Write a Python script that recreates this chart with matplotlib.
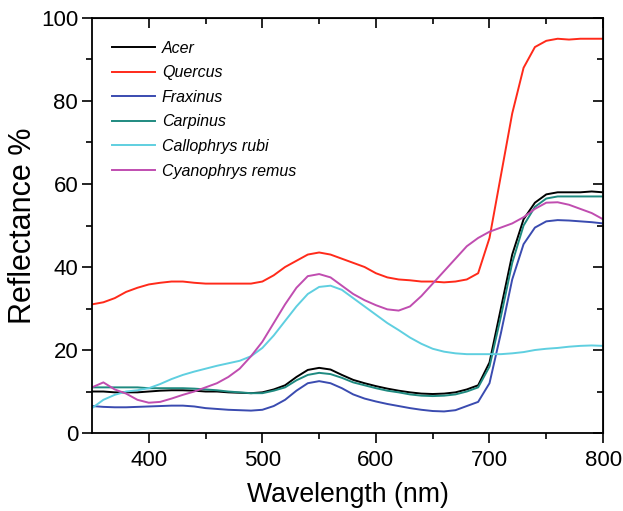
import numpy as np
import matplotlib
matplotlib.use("Agg")
import matplotlib.pyplot as plt

plt.rcParams['font.family'] = ['Liberation Sans', 'DejaVu Sans']

wavelength = list(range(350, 801, 10))

acer = [10, 10, 9.8, 9.8, 9.8, 10, 10.2, 10.3, 10.3, 10.2, 10, 10, 9.8, 9.7, 9.6, 9.8,
        10.5, 11.5, 13.5, 15.2, 15.7, 15.3, 14, 12.8, 12, 11.3, 10.7, 10.2, 9.8, 9.5,
        9.4, 9.5, 9.8, 10.5, 11.5, 17, 30, 43, 51.5, 55.5, 57.5, 58, 58, 58, 58.2, 58]
quercus = [31, 31.5, 32.5, 34, 35, 35.8, 36.2, 36.5, 36.5, 36.2, 36, 36, 36, 36, 36, 36.5,
           38, 40, 41.5, 43, 43.5, 43, 42, 41, 40, 38.5, 37.5, 37, 36.8, 36.5,
           36.5, 36.3, 36.5, 37, 38.5, 47, 62, 77, 88, 93, 94.5, 95, 94.8, 95, 95, 95]
fraxinus = [6.5, 6.3, 6.2, 6.2, 6.3, 6.4, 6.5, 6.6, 6.6, 6.4, 6, 5.8, 5.6, 5.5, 5.4, 5.6,
            6.5, 8, 10.2, 12, 12.5, 12, 10.8, 9.3, 8.3, 7.6, 7, 6.5, 6, 5.6,
            5.3, 5.2, 5.5, 6.5, 7.5, 12, 24, 37, 45.5, 49.5, 51, 51.3, 51.2, 51, 50.8, 50.5]
carpinus = [11, 11, 11, 11, 11, 10.8, 10.8, 10.8, 10.8, 10.7, 10.5, 10.3, 10, 9.8, 9.6, 9.6,
            10.2, 11, 12.7, 14, 14.5, 14.2, 13.3, 12.2, 11.5, 10.8, 10.2, 9.8, 9.3, 9,
            8.9, 9, 9.3, 10, 11, 16, 28, 41, 50, 54.5, 56.5, 57, 57, 57, 57, 57]
callophrys = [6, 8, 9.2, 10, 10.3, 10.8, 11.8, 13, 14, 14.8, 15.5, 16.2, 16.8, 17.4, 18.5, 20.5,
              23.5, 27, 30.5, 33.5, 35.2, 35.5, 34.5, 32.5, 30.5, 28.5, 26.5, 24.8, 23, 21.5,
              20.3, 19.6, 19.2, 19, 19, 19, 19, 19.2, 19.5, 20, 20.3, 20.5, 20.8, 21, 21.1, 21]
cyanophrys = [11, 12.2, 10.5, 9.5, 8, 7.3, 7.5, 8.3, 9.2, 10, 11, 12, 13.5, 15.5, 18.5, 22,
              26.5, 31, 35, 37.8, 38.3, 37.5, 35.5, 33.5, 32, 30.8, 29.8, 29.5, 30.5, 33,
              36, 39, 42, 45, 47, 48.5, 49.5, 50.5, 52, 54, 55.5, 55.6, 55, 54, 53, 51.5]

names = ['Acer', 'Quercus', 'Fraxinus', 'Carpinus', 'Callophrys rubi', 'Cyanophrys remus']
colors = ['#000000', '#ff2a1a', '#3a4bb0', '#1f8a80', '#5fcfe0', '#c04db0']
series = [acer, quercus, fraxinus, carpinus, callophrys, cyanophrys]

fig = plt.figure(figsize=(6.23, 5.11), dpi=100)
ax = fig.add_axes([0.1477, 0.1526, 0.8203, 0.8122])
for name, col, ys in zip(names, colors, series):
    ax.plot(wavelength, ys, color=col, lw=1.4, label=name)

ax.set_xlim(350, 800)
ax.set_ylim(0, 100)
ax.set_xticks([400, 500, 600, 700, 800])
ax.set_xticks([450, 550, 650, 750], minor=True)
ax.set_yticks([0, 20, 40, 60, 80, 100])
ax.set_yticks([10, 30, 50, 70, 90], minor=True)
ax.tick_params(axis='both', which='major', direction='out', length=7, width=1.2, labelsize=16)
ax.tick_params(axis='x', which='major', pad=5)
ax.tick_params(axis='y', which='major', pad=3)
ax.tick_params(axis='both', which='minor', direction='out', length=4, width=1.2)
for s in ax.spines.values():
    s.set_linewidth(1.3)

top = ax.secondary_xaxis('top')
top.set_xticks([400, 500, 600, 700, 800])
top.set_xticks([450, 550, 650, 750], minor=True)
top.tick_params(which='major', direction='in', length=7, width=1.2, labeltop=False)
top.tick_params(which='minor', direction='in', length=4, width=1.2)
right = ax.secondary_yaxis('right')
right.set_yticks([0, 20, 40, 60, 80, 100])
right.set_yticks([10, 30, 50, 70, 90], minor=True)
right.tick_params(which='major', direction='in', length=7, width=1.2, labelright=False)
right.tick_params(which='minor', direction='in', length=4, width=1.2)

ax.set_xlabel('Wavelength (nm)', fontsize=19.2, labelpad=8)
ax.set_ylabel('Reflectance %', fontsize=22, labelpad=2)

leg = ax.legend(loc='upper left', bbox_to_anchor=(0.01, 0.98), frameon=False,
                prop={'style': 'italic', 'size': 11.5}, handlelength=2.7,
                labelspacing=0.6, handletextpad=0.45)

fig.savefig('out.png', dpi=100)
